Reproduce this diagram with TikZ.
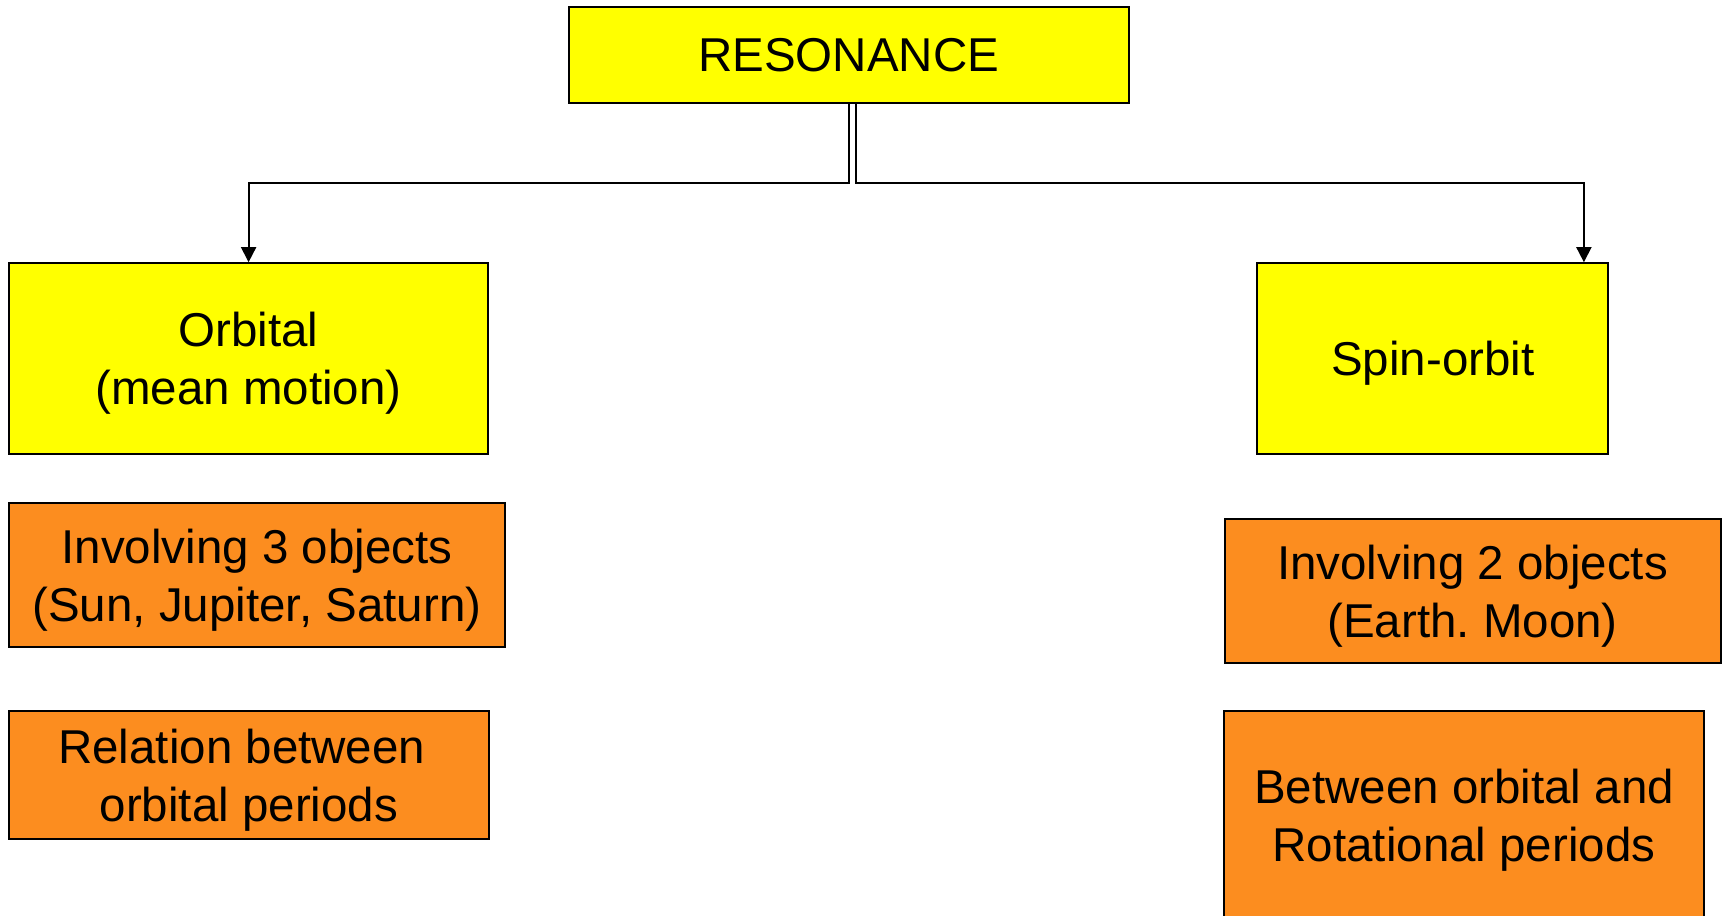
\documentclass[tikz,border=0pt]{standalone}
\usepackage{fontspec}
\setmainfont{Liberation Sans}
\usetikzlibrary{arrows.meta}
\definecolor{boxyellow}{RGB}{255,255,0}
\definecolor{boxorange}{RGB}{252,141,31}
\newcommand\nodepthline[1]{\raisebox{0pt}[\height][0pt]{#1}}
\frenchspacing
\begin{document}
\begin{tikzpicture}[x=1pt,y=-1pt,
  box/.style={draw=black, line width=2pt, inner sep=0pt, align=center,
    font=\fontsize{47.5}{58}\selectfont, text=black},
  ybox/.style={box, fill=boxyellow},
  obox/.style={box, fill=boxorange},
  conn/.style={line width=1.8pt, -{Triangle[width=15pt,length=15pt]}}]
\useasboundingbox[fill=white] (0,0) rectangle (1725,916);
\node[ybox, minimum width=560pt, minimum height=96pt] (res) at (848.7,54.9) {\nodepthline{RESONANCE}};
\node[ybox, minimum width=479pt, minimum height=191pt] (orb) at (248.6,358.7) {Orbital\\\nodepthline{(mean motion)}};
\node[ybox, minimum width=351pt, minimum height=191pt] (spin) at (1432.9,358.7) {\nodepthline{Spin-orbit}};
\node[obox, minimum width=496pt, minimum height=144pt] (inv3) at (256.9,575) {Involving 3 objects\\\nodepthline{(Sun, Jupiter, Saturn)}};
\node[obox, minimum width=480pt, minimum height=128pt] (rel) at (248.9,775) {Relation between\hspace*{0.3em}\\\nodepthline{orbital periods}};
\node[obox, minimum width=496pt, minimum height=144pt] (inv2) at (1472.5,591.3) {Involving 2 objects\\\nodepthline{(Earth. Moon)}};
\node[obox, minimum width=480pt, minimum height=209pt] (betw) at (1464,815.7) {Between orbital and\\\nodepthline{Rotational periods}};
\draw[conn] (res.south) -- ++(0,79) -| (orb.north);
\draw[conn] ([xshift=7pt]res.south) -- ++(0,79) -| ([xshift=151pt]spin.north);
\end{tikzpicture}
\end{document}
